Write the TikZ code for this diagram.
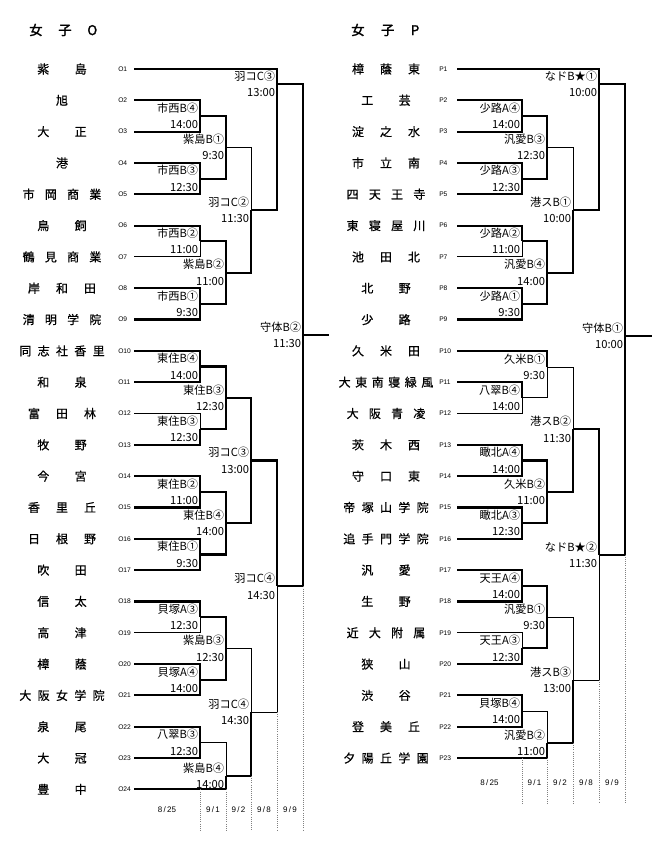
\documentclass[tikz,border=0pt]{standalone}
\usepackage{fontspec}
\setmainfont{Noto Sans CJK JP}
\newfontfamily\teamfont{Noto Sans CJK JP}[FakeBold=0.6]
\newfontfamily\titlefont{Noto Sans CJK JP}[FakeBold=1.8]
\newfontfamily\codefont{Liberation Sans}
\usetikzlibrary{positioning}

\begin{document}
\begin{tikzpicture}[
    x=0.75pt, y=-0.75pt,
    win/.style={line width=1.6pt},
    lose/.style={line width=0.7pt},
    grid/.style={gray, densely dotted, line width=0.6pt},
    title/.style={font=\titlefont\fontsize{10}{12}\selectfont, anchor=west, inner sep=0pt},
    tname/.style={font=\teamfont\fontsize{9}{10}\selectfont, inner sep=0pt},
    tcode/.style={font=\codefont\fontsize{5}{6}\selectfont, anchor=west, inner sep=0pt},
    mname/.style={font=\fontsize{8.4}{9}\selectfont, inner sep=0pt},
    mtime/.style={font=\fontsize{8.4}{9}\selectfont, inner sep=0pt},
    day/.style={font=\codefont\fontsize{6}{7}\selectfont, inner sep=0pt}
]
\useasboundingbox (0,0) rectangle (668,850);

% titles
\node[title] (oTitle) at (29,30) {\makebox[51pt][s]{女 子 O}};
\node[title] (pTitle) at (351,30) {\makebox[51pt][s]{女 子 P}};

% --- bracket O ---
\foreach \i/\w/\nm [evaluate=\i as \y using 69+(\i-1)*31.32] in {
    1/37pt/紫 島, 2/9pt/旭, 3/37pt/大 正, 4/9pt/港, 5/59pt/市 岡 商 業,
    6/37pt/鳥 飼, 7/59pt/鶴 見 商 業, 8/51pt/岸 和 田, 9/59pt/清 明 学 院,
    10/64pt/同 志 社 香 里, 11/37pt/和 泉, 12/51pt/富 田 林, 13/37pt/牧 野,
    14/37pt/今 宮, 15/51pt/香 里 丘, 16/51pt/日 根 野, 17/37pt/吹 田,
    18/37pt/信 太, 19/37pt/高 津, 20/37pt/樟 蔭, 21/64pt/大 阪 女 学 院,
    22/37pt/泉 尾, 23/37pt/大 冠, 24/37pt/豊 中} {
    \node[tname] (oN\i) at (62,\y) {\makebox[\w][s]{\nm}};
    \node[tcode] (oId\i) at (118,\y) {O\i};
    \coordinate (oS\i) at (134,\y);
}

\foreach \m/\x/\y/\lab/\tm in {
    o1a/200/116.0/市西B④/14:00, o1b/200/178.6/市西B③/12:30,
    o1c/200/241.3/市西B②/11:00, o1d/200/303.9/市西B①/9:30,
    o1e/200/366.5/東住B④/14:00, o1f/200/429.2/東住B③/12:30,
    o1g/200/491.8/東住B②/11:00, o1h/200/554.5/東住B①/9:30,
    o1i/200/617.1/貝塚A③/12:30, o1j/200/679.7/貝塚A④/14:00,
    o1k/200/742.4/八翠B③/12:30,
    o2a/226/147.3/紫島B①/9:30, o2b/226/272.6/紫島B②/11:00,
    o2c/226/397.9/東住B③/12:30, o2d/226/523.1/東住B④/14:00,
    o2e/226/648.4/紫島B③/12:30, o2f/226/776.0/紫島B④/14:00,
    o3a/251/210.0/羽コC②/11:30, o3b/251/460.5/羽コC③/13:00,
    o3c/251/712.2/羽コC④/14:30,
    o4a/277/84.0/羽コC③/13:00, o4b/277/586.4/羽コC④/14:30,
    o5a/303/335.2/守体B②/11:30} {
    \coordinate (\m) at (\x,\y);
    \node[mname, above left=1.8pt and 1.2pt of \m] (\m-name) {\lab};
    \node[mtime, below left=3.2pt and 1.2pt of \m] (\m-time) {\tm};
}
\coordinate (oEnd) at (329,335.2);
\coordinate (oFoot) at (0,830);

\foreach \a/\b/\s in {
    oS1/o4a/win, oS2/o1a/win, oS3/o1a/win, oS4/o1b/win, oS5/o1b/win,
    oS6/o1c/win, oS7/o1c/lose, oS8/o1d/win, oS9/o1d/win,
    oS10/o1e/win, oS11/o1e/win, oS12/o1f/lose, oS13/o1f/win,
    oS14/o1g/win, oS15/o1g/win, oS16/o1h/win, oS17/o1h/win,
    oS18/o1i/win, oS19/o1i/lose, oS20/o1j/win, oS21/o1j/win,
    oS22/o1k/win, oS23/o1k/win, oS24/o2f/win,
    o1a/o2a/win, o1b/o2a/win, o1c/o2b/win, o1d/o2b/win,
    o1e/o2c/win, o1f/o2c/win, o1g/o2d/win, o1h/o2d/win,
    o1i/o2e/win, o1j/o2e/win, o1k/o2f/lose,
    o2a/o3a/lose, o2b/o3a/win, o2c/o3b/win, o2d/o3b/win,
    o2e/o3c/lose, o2f/o3c/win,
    o3a/o4a/win, o3b/o4b/win, o3c/o4b/lose,
    o4a/o5a/win, o4b/o5a/win}
    \draw[\s] (\a) -- (\a -| \b) -- (\b);
\draw[win] (o5a) -- (oEnd);

\draw[grid] (oS24 -| o1k) -- (o1k |- oFoot);
\draw[grid] (oS24 -| o2f) -- (o2f |- oFoot);
\draw[grid] (o2f -| o3c) -- (o3c |- oFoot);
\draw[grid] (o3c -| o4b) -- (o4b |- oFoot);
\draw[grid] (o4b -| o5a) -- (o5a |- oFoot);

\foreach \x/\mo/\dd in {167/8/25, 213/9/1, 238.5/9/2, 264/9/8, 290/9/9}
    \node[day] (oDay\x) at (\x,810) {\mo\,/\,\dd};

% --- bracket P ---
\foreach \i/\w/\nm [evaluate=\i as \y using 69+(\i-1)*31.32] in {
    1/51pt/樟 蔭 東, 2/37pt/工 芸, 3/51pt/淀 之 水, 4/51pt/市 立 南,
    5/59pt/四 天 王 寺, 6/59pt/東 寝 屋 川, 7/51pt/池 田 北, 8/37pt/北 野,
    9/37pt/少 路, 10/51pt/久 米 田, 11/71pt/大 東 南 寝 緑 風,
    12/59pt/大 阪 青 凌, 13/51pt/茨 木 西, 14/51pt/守 口 東,
    15/64pt/帝 塚 山 学 院, 16/64pt/追 手 門 学 院, 17/37pt/汎 愛,
    18/37pt/生 野, 19/59pt/近 大 附 属, 20/37pt/狭 山, 21/37pt/渋 谷,
    22/51pt/登 美 丘, 23/64pt/夕 陽 丘 学 園} {
    \node[tname] (pN\i) at (386,\y) {\makebox[\w][s]{\nm}};
    \node[tcode] (pId\i) at (439,\y) {P\i};
    \coordinate (pS\i) at (457,\y);
}

\foreach \m/\x/\y/\lab/\tm in {
    p1a/522/116.0/少路A④/14:00, p1b/522/178.6/少路A③/12:30,
    p1c/522/241.3/少路A②/11:00, p1d/522/303.9/少路A①/9:30,
    p1e/522/397.9/八翠B④/14:00, p1f/522/460.5/瞰北A④/14:00,
    p1g/522/523.1/瞰北A③/12:30, p1h/522/585.8/天王A④/14:00,
    p1i/522/648.4/天王A③/12:30, p1j/522/711.1/貝塚B④/14:00,
    p2a/547/147.3/汎愛B③/12:30, p2b/547/272.6/汎愛B④/14:00,
    p2c/547/367.0/久米B①/9:30, p2d/547/491.8/久米B②/11:00,
    p2e/547/617.1/汎愛B①/9:30, p2f/547/743.0/汎愛B②/11:00,
    p3a/573/210.0/港スB①/10:00, p3b/573/429.4/港スB②/11:30,
    p3c/573/680.0/港スB③/13:00,
    p4a/599/84.0/なドB★①/10:00, p4b/599/554.7/なドB★②/11:30,
    p5a/625/336.0/守体B①/10:00} {
    \coordinate (\m) at (\x,\y);
    \node[mname, above left=1.8pt and 1.2pt of \m] (\m-name) {\lab};
    \node[mtime, below left=3.2pt and 1.2pt of \m] (\m-time) {\tm};
}
\coordinate (pEnd) at (652,336.0);
\coordinate (pFoot) at (0,803);

\foreach \a/\b/\s in {
    pS1/p4a/win, pS2/p1a/win, pS3/p1a/win, pS4/p1b/win, pS5/p1b/win,
    pS6/p1c/win, pS7/p1c/lose, pS8/p1d/win, pS9/p1d/win,
    pS10/p2c/win, pS11/p1e/win, pS12/p1e/lose,
    pS13/p1f/win, pS14/p1f/win, pS15/p1g/win, pS16/p1g/win,
    pS17/p1h/win, pS18/p1h/win, pS19/p1i/lose, pS20/p1i/win,
    pS21/p1j/win, pS22/p1j/win, pS23/p2f/win,
    p1a/p2a/win, p1b/p2a/win, p1c/p2b/win, p1d/p2b/win,
    p1e/p2c/lose, p1f/p2d/win, p1g/p2d/win,
    p1h/p2e/win, p1i/p2e/win, p1j/p2f/lose,
    p2a/p3a/lose, p2b/p3a/win, p2c/p3b/lose, p2d/p3b/win,
    p2e/p3c/lose, p2f/p3c/win,
    p3a/p4a/win, p3b/p4b/win, p3c/p4b/lose,
    p4a/p5a/win, p4b/p5a/win}
    \draw[\s] (\a) -- (\a -| \b) -- (\b);
\draw[win] (p5a) -- (pEnd);

\draw[grid] (pS23 -| p1j) -- (p1j |- pFoot);
\draw[grid] (pS23 -| p2f) -- (p2f |- pFoot);
\draw[grid] (p2f -| p3c) -- (p3c |- pFoot);
\draw[grid] (p3c -| p4b) -- (p4b |- pFoot);
\draw[grid] (p4b -| p5a) -- (p5a |- pFoot);

\foreach \x/\mo/\dd in {489.5/8/25, 534.5/9/1, 560/9/2, 586/9/8, 612/9/9}
    \node[day] (pDay\x) at (\x,783) {\mo\,/\,\dd};
\end{tikzpicture}
\end{document}
